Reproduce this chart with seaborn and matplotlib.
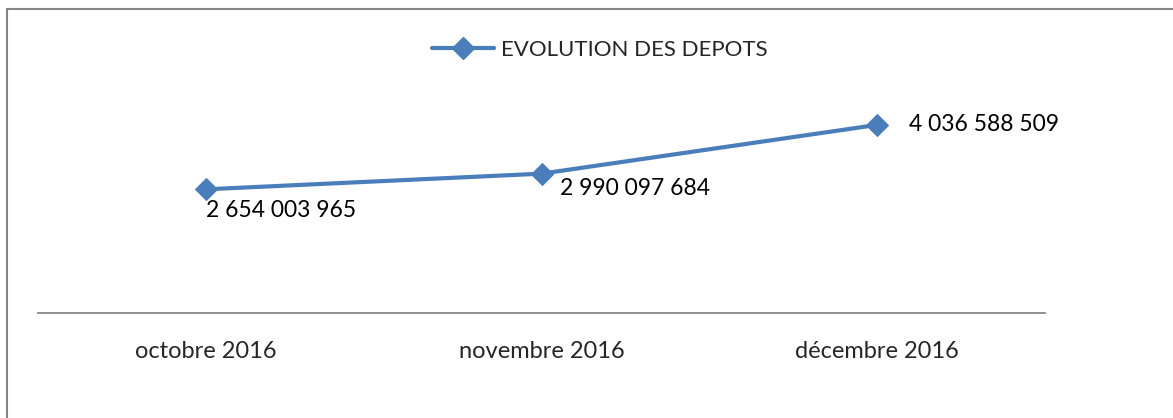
import pandas as pd
import numpy as np
import matplotlib.pyplot as plt
import seaborn as sns
from matplotlib.lines import Line2D

months = ["octobre 2016", "novembre 2016", "décembre 2016"]
depots = [2654003965, 2990097684, 4036588509]
labels = ["2 654 003 965", "2 990 097 684", "4 036 588 509"]
series_name = "EVOLUTION DES DEPOTS"

df = pd.DataFrame({"mois": months, "depots": depots, "serie": series_name})

sns.set_style("white")
plt.rcParams['font.family'] = ['Lato', 'DejaVu Sans']

blue = "#4A7EBB"
grey = "#868686"

fig = plt.figure(figsize=(11.73, 4.18), dpi=100)
ax = fig.add_axes([38 / 1173, 105 / 418, 1007 / 1173, 233 / 418])

sns.lineplot(data=df, x="mois", y="depots", hue="serie", palette=[blue],
             marker="D", markersize=11, linewidth=3, markeredgecolor=blue,
             sort=False, ax=ax)

ax.set_xlim(-0.5, 2.5)
ax.set_ylim(0, 5e9)
ax.set_xlabel("")
ax.set_ylabel("")
ax.set_yticks([])
for s in ["top", "right", "left"]:
    ax.spines[s].set_visible(False)
ax.spines["bottom"].set_color(grey)
ax.spines["bottom"].set_linewidth(1.3)
ax.tick_params(axis="x", length=0, pad=20, labelsize=17)

# data labels (offsets in points)
offsets = [(54, -15, "center"), (67, -11, "center"), (23, 0, "left")]
for i, (lab, off) in enumerate(zip(labels, offsets)):
    ax.annotate(lab, (i, depots[i]), xytext=(off[0], off[1]), textcoords="offset points",
                ha=off[2], va="center", fontsize=16.5, color="black")

ax.legend_.remove()
handle = Line2D([], [], color=blue, linewidth=3, marker="D", markersize=11)
fig.legend([handle], [series_name], loc="center", bbox_to_anchor=(0.511, 0.880),
           frameon=False, fontsize=16, handlelength=2.8, handletextpad=0.3)

# outer border (top and left only visible)
fig.add_artist(Line2D([7 / 1173, 1], [1 - 9 / 418, 1 - 9 / 418], color=grey, linewidth=1.5,
                      transform=fig.transFigure))
fig.add_artist(Line2D([7 / 1173, 7 / 1173], [0, 1 - 9 / 418], color=grey, linewidth=1.5,
                      transform=fig.transFigure))

fig.savefig("out.png", dpi=100, facecolor="white")
